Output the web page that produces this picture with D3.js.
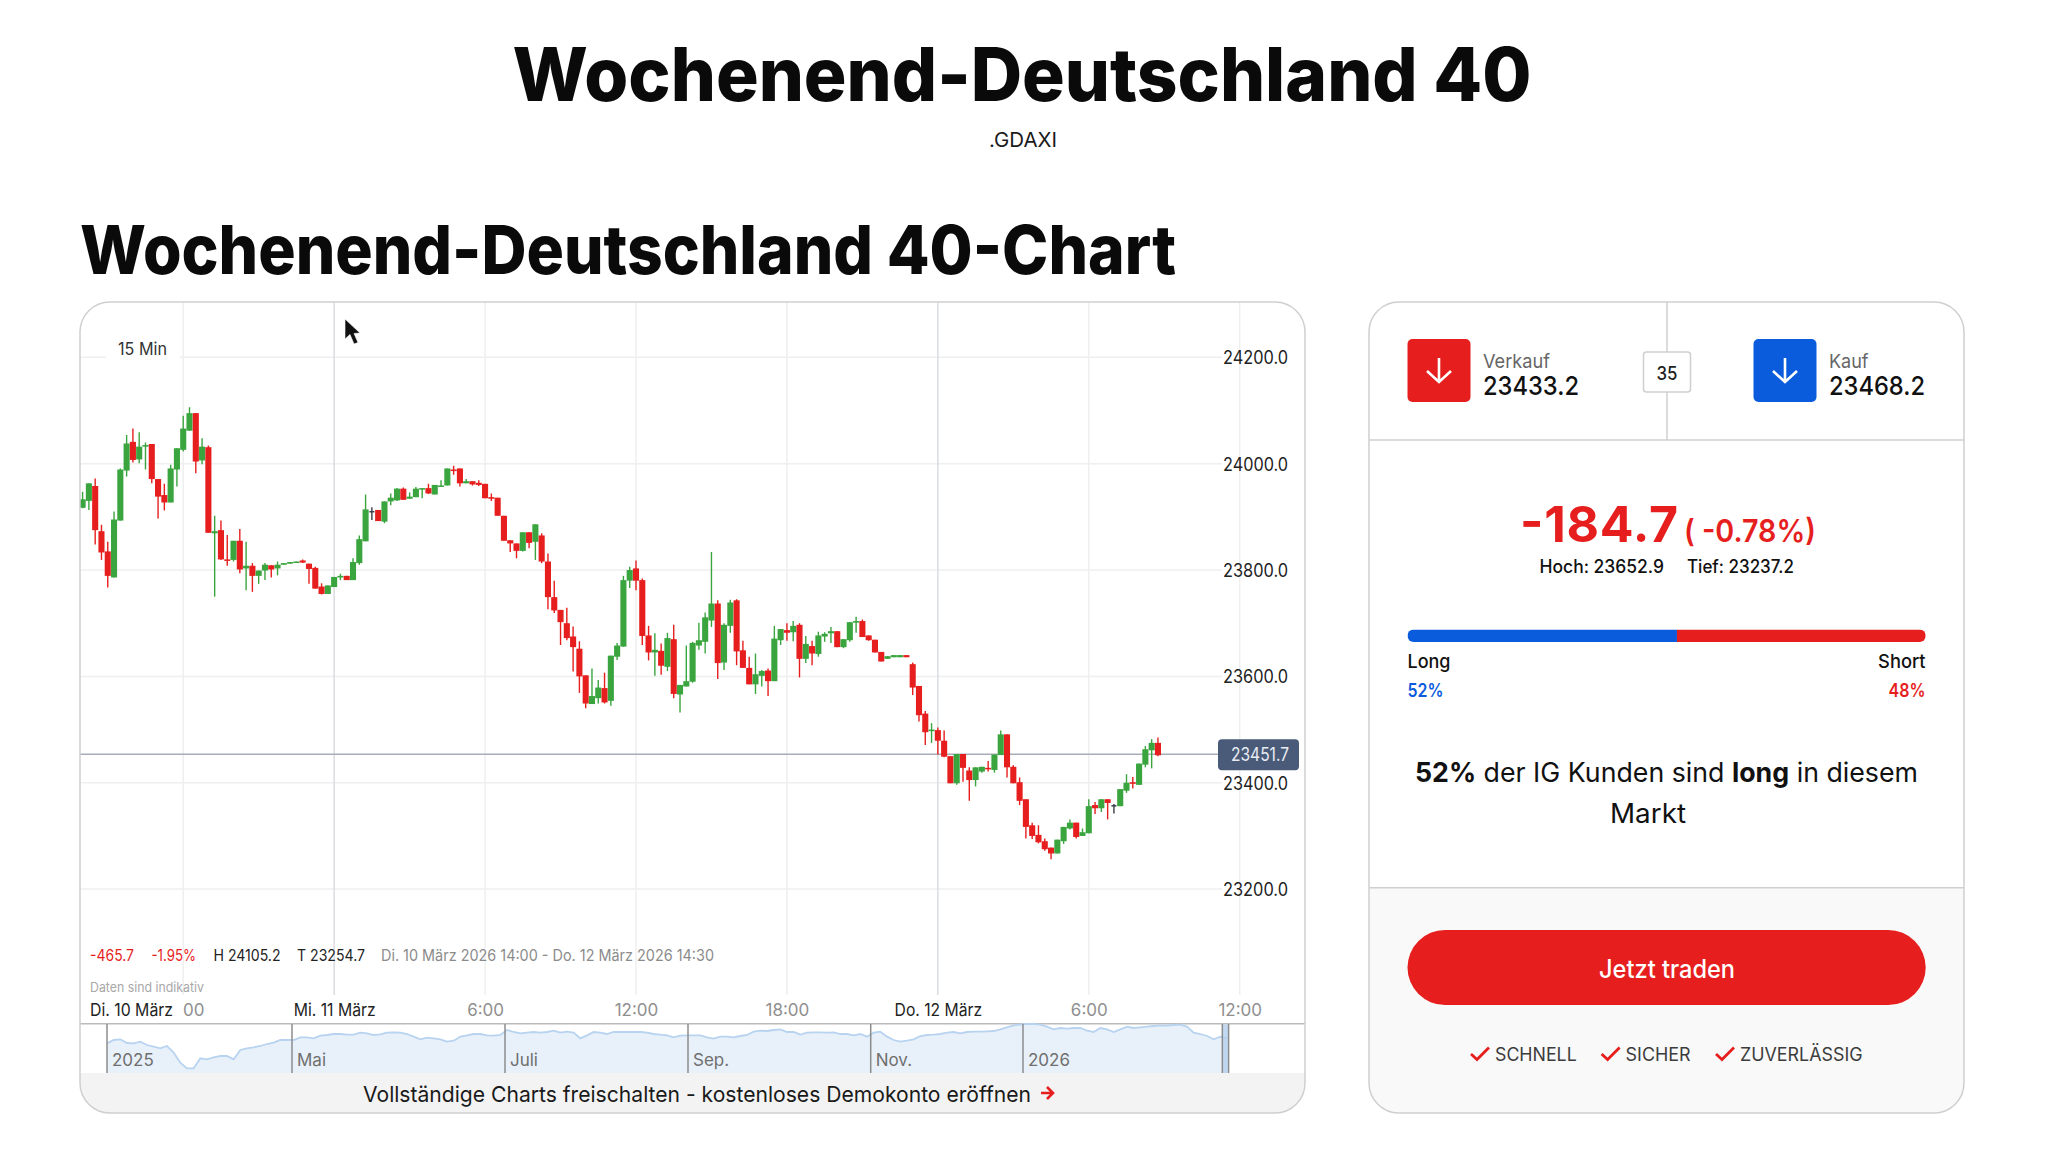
<!DOCTYPE html>
<html lang="de"><head><meta charset="utf-8"><title>Wochenend-Deutschland 40</title>
<script src="https://cdn.jsdelivr.net/npm/d3@7/dist/d3.min.js"></script>
<style>html,body{margin:0;padding:0;background:#fff}svg{display:block}text{font-family:Inter,"Noto Sans",sans-serif}</style>
</head><body><div id="chart"></div>
<script>
// ---------- Candles (15 Min), one entry per bar ----------
const opens=[23917,23930,23958,23873,23835,23786,23893,23987,24041,24008,24032,24037,23971,23941,23927,23989,24026,24062,24095,24006,24031,23869,23875,23820,23819,23855,23803,23808,23789,23799,23809,23803,23810,23812,23814,23818,23812,23804,23769,23755,23768,23786,23789,23781,23813,23854,23911,23913,23891,23929,23931,23953,23934,23937,23952,23954,23942,23957,23959,23989,23991,23963,23967,23964,23962,23937,23936,
23902,23856,23850,23836,23871,23853,23865,23816,23749,23725,23700,23675,23652,23602,23548,23559,23578,23554,23637,23656,23780,23803,23781,23677,23645,23648,23618,23670,23566,23581,23590,23658,23665,23705,23737,23626,23695,23743,23649,23616,23585,23601,23611,23591,23668,23687,23683,23697,23633,23657,23642,23675,23681,23685,23655,23668,23701,23704,23677,23669,23646,
23633,23636,23636,23640,23623,23582,23530,23497,23499,23479,23450,23399,23454,23423,23405,23421,23428,23424,23452,23491,23430,23401,23369,23320,23302,23290,23278,23267,23290,23314,23325,23300,23305,23358,23352,23369,23358,23356,23385,23401,23396,23434,23461,23475];
const highs=[23947,23963,23972,23885,23853,23910,23991,24054,24066,24059,24040,24037,23971,23962,23998,24029,24090,24106,24095,24048,24034,23902,23893,23866,23855,23877,23853,23813,23799,23813,23809,23816,23813,23815,23816,23820,23812,23806,23775,23771,23787,23793,23789,23822,23865,23942,23918,23913,23929,23944,23954,23955,23946,23956,23954,23962,23960,23969,23991,23996,23991,23971,23967,23969,23962,23944,23936,
23902,23856,23850,23871,23871,23886,23869,23831,23780,23725,23729,23694,23666,23602,23615,23593,23607,23639,23663,23789,23806,23818,23784,23695,23681,23662,23682,23697,23584,23658,23665,23701,23720,23834,23743,23700,23744,23745,23667,23637,23643,23612,23615,23695,23689,23700,23704,23700,23676,23667,23684,23683,23693,23685,23670,23702,23712,23707,23677,23669,23646,
23638,23640,23640,23640,23626,23582,23535,23512,23504,23498,23450,23454,23454,23429,23429,23430,23441,23453,23498,23491,23433,23410,23369,23325,23320,23295,23278,23293,23317,23331,23325,23314,23369,23364,23369,23369,23360,23388,23416,23411,23436,23469,23482,23485];
const lows=[23916,23913,23848,23819,23767,23786,23893,23976,24002,24001,23989,23963,23897,23912,23927,23957,24023,24062,23982,23999,23870,23750,23819,23808,23816,23794,23762,23759,23774,23781,23786,23790,23810,23812,23814,23813,23774,23765,23754,23755,23768,23781,23781,23781,23810,23854,23894,23892,23888,23922,23930,23932,23934,23937,23935,23943,23942,23957,23959,23979,23957,23963,23959,23958,23935,23930,23902,
23855,23834,23822,23835,23841,23819,23813,23726,23719,23659,23668,23609,23569,23540,23548,23549,23549,23545,23631,23656,23766,23762,23659,23630,23601,23603,23610,23559,23532,23581,23588,23650,23643,23693,23595,23612,23682,23621,23616,23585,23567,23581,23563,23591,23659,23667,23666,23598,23625,23621,23637,23665,23663,23655,23653,23665,23682,23674,23667,23645,23628,
23633,23636,23636,23636,23565,23515,23471,23475,23453,23448,23399,23396,23402,23366,23393,23419,23421,23419,23452,23410,23399,23358,23295,23294,23286,23272,23256,23267,23285,23312,23295,23300,23305,23341,23345,23331,23342,23356,23381,23389,23396,23429,23427,23450];
const closes=[23933,23963,23875,23833,23789,23895,23989,24038,24007,24032,24035,23971,23938,23927,23991,24029,24066,24095,24004,24032,23870,23873,23820,23818,23855,23801,23808,23789,23799,23810,23801,23810,23813,23815,23816,23814,23802,23765,23755,23771,23787,23789,23781,23815,23858,23914,23911,23892,23929,23936,23953,23932,23938,23953,23954,23944,23960,23959,23991,23987,23963,23967,23961,23960,23935,23934,23902,
23855,23850,23836,23871,23851,23886,23816,23749,23724,23702,23672,23655,23600,23549,23563,23579,23551,23639,23658,23781,23800,23780,23676,23645,23650,23620,23672,23567,23584,23591,23663,23668,23711,23737,23625,23697,23739,23647,23616,23585,23604,23610,23591,23671,23689,23682,23695,23633,23661,23643,23677,23680,23685,23655,23670,23702,23704,23674,23668,23645,23628,
23638,23640,23640,23636,23579,23527,23495,23500,23479,23449,23399,23454,23428,23405,23429,23430,23426,23453,23491,23429,23399,23366,23317,23300,23288,23275,23267,23293,23317,23325,23298,23307,23356,23352,23369,23362,23358,23388,23400,23398,23436,23463,23475,23451.7];

// ---------- Axes ----------
const priceTicks=[24200,24000,23800,23600,23400,23200];
const timeTickBars=[16,40,64,88,112,136,160,184];
const timeTickLabels=["00","Mi. 11 März","6:00","12:00","18:00","Do. 12 März","6:00","12:00"];
const dayTicks=[40,136];
const lastPrice=23451.7;

// ---------- Navigator (whole-period overview) ----------
const overview=[22750,23200,23290,22795,22750,22975,22525,22300,22075,22390,21490,20140,19375,19375,20725,20590,20860,21040,21040,20590,21850,22075,22210,22390,22660,22840,23200,23200,23200,23560,23560,23425,23785,23875,24010,24010,23920,23920,24190,24100,23875,23965,24190,24235,24190,24010,23650,23290,23515,23425,23290,22975,23110,23650,23830,24010,24010,23830,23785,23875,24550,24280,24100,24190,24280,24190,24280,24460,24190,24325,24190,23425,23830,24280,24190,24010,24280,
24280,24280,24280,24280,24190,24010,23920,23830,23560,23785,23830,23830,23830,23560,23380,23650,23650,23560,23740,23875,24325,24460,24415,24550,24640,24280,24280,23920,24190,24235,24235,24190,24235,24010,24010,23830,24010,23650,24190,24325,23650,23200,22975,23110,23290,23740,23875,23920,24010,24190,24280,24100,24280,24325,24325,24370,24415,24640,24910,25180,25270,25360,25360,25270,25000,24640,24820,24730,24820,24820,24460,24280,24820,24640,24280,24640,25000,
24820,24910,25000,25090,25180,25135,25225,25270,25000,24190,24010,23740,23290,23650,23425];
const overviewLabels=["2025","Mai","Juli","Sep.","Nov.","2026"];
const windowStartIndex=167.3;

// ---------- Panel content ----------
const longPct=52, shortPct=48;
const sellPrice="23433.2", buyPrice="23468.2", spread="35";
const change="-184.7", changePct="( -0.78%)", dayHigh="Hoch: 23652.9", dayLow="Tief: 23237.2";
const features=["SCHNELL","SICHER","ZUVERLÄSSIG"];

const RED="#e61e1e",GREEN="#3aa53e",BLUE="#0a5cdc",DARK="#3a3f47",BORDER="#cfcfcf";
const W=2048,H=1168;
const svg=d3.select("#chart").append("svg").attr("width",W).attr("height",H).attr("viewBox",`0 0 ${W} ${H}`);
function txt(par,x,y,s,o={}){
  const t=par.append("text").attr("x",x).attr("y",y).text(s)
    .attr("font-size",o.size||18).attr("font-weight",o.weight||400).attr("fill",o.fill||"#1a1a1a")
    .attr("text-anchor",o.anchor||"start");
  if(o.w) t.attr("textLength",o.w).attr("lengthAdjust",o.adjust||"spacingAndGlyphs");
  return t;
}

// Titles
txt(svg,1022,101,"Wochenend-Deutschland 40",{size:74,weight:800,fill:"#0a0a0a",anchor:"middle",w:1019});
txt(svg,1023,147,".GDAXI",{size:20,anchor:"middle",w:68});
txt(svg,80,274,"Wochenend-Deutschland 40-Chart",{size:68,weight:800,fill:"#0a0a0a",w:1096});

// ---------- Left card ----------
const defs=svg.append("defs");
defs.append("clipPath").attr("id","leftClip").append("rect").attr("x",80).attr("y",302).attr("width",1225).attr("height",811).attr("rx",30);
defs.append("clipPath").attr("id","rightClip").append("rect").attr("x",1369).attr("y",302).attr("width",595).attr("height",811).attr("rx",30);
const left=svg.append("g").attr("clip-path","url(#leftClip)");
left.append("rect").attr("x",80).attr("y",302).attr("width",1225).attr("height",811).attr("fill","#fff");

const x=d3.scaleLinear().domain([0,184]).range([82.6,1239.7]);
const y=d3.scaleLinear().domain([23200,24200]).range([889.1,357.3]);

// Grid
left.append("g").selectAll("line").data(priceTicks).join("line")
  .attr("x1",80).attr("x2",1222).attr("y1",d=>y(d)).attr("y2",d=>y(d)).attr("stroke","#efefef").attr("stroke-width",1.5);
left.append("g").selectAll("line").data(timeTickBars).join("line")
  .attr("x1",d=>x(d)).attr("x2",d=>x(d)).attr("y1",302).attr("y2",995)
  .attr("stroke",d=>dayTicks.includes(d)?"#d9dce0":"#efefef").attr("stroke-width",1.5);

// 15 Min label
left.append("rect").attr("x",106).attr("y",336).attr("width",74).attr("height",22).attr("fill","#fff");
txt(left,118,355,"15 Min",{size:17,fill:"#333",w:49});

// Price line
left.append("line").attr("x1",80).attr("x2",1218).attr("y1",y(lastPrice)-1).attr("y2",y(lastPrice)-1).attr("stroke","#a7adb8").attr("stroke-width",1.5);

// Candles
const bars=opens.map((o,i)=>({i,o,h:highs[i],l:lows[i],c:closes[i]}));
const col=d=>d.c>d.o?GREEN:d.c<d.o?RED:DARK;
const cg=left.append("g");
cg.selectAll(".wick").data(bars).join("line").attr("class","wick")
  .attr("x1",d=>x(d.i)).attr("x2",d=>x(d.i)).attr("y1",d=>y(d.h)).attr("y2",d=>y(d.l))
  .attr("stroke",col).attr("stroke-width",1.4);
const bw=(x(1)-x(0))-0.2;
cg.selectAll(".body").data(bars).join("rect").attr("class","body")
  .attr("x",d=>x(d.i)-(d.o===d.c?2.5:bw/2)).attr("width",d=>d.o===d.c?5:bw)
  .attr("y",d=>y(Math.max(d.o,d.c))).attr("height",d=>Math.max(1.5,Math.abs(y(d.o)-y(d.c))))
  .attr("fill",col);

// Price axis
const yAxis=left.append("g").attr("transform","translate(1223,0.6)")
  .call(d3.axisRight(y).tickValues(priceTicks).tickSize(0).tickPadding(0).tickFormat(d3.format(".1f")));
yAxis.select(".domain").remove();
yAxis.selectAll("text").attr("font-size",18).attr("fill","#222").style("font-family","Inter").attr("textLength",65).attr("lengthAdjust","spacingAndGlyphs");

// Price tag
left.append("rect").attr("x",1218).attr("y",y(lastPrice)-16).attr("width",81).attr("height",31).attr("rx",4).attr("fill","#4a5b7a");
txt(left,1231,y(lastPrice)+6,d3.format(".1f")(lastPrice),{size:18,fill:"#e9edf3",w:58});

// Stats row
txt(left,90,961,"-465.7",{size:16,fill:RED,w:44});
txt(left,151.5,961,"-1.95%",{size:16,fill:RED,w:44.5});
txt(left,213.5,961,"H 24105.2",{size:16,fill:"#222",w:67});
txt(left,297,961,"T 23254.7",{size:16,fill:"#222",w:68});
txt(left,381,961,"Di. 10 März 2026 14:00 - Do. 12 März 2026 14:30",{size:16,fill:"#8b8b8b",w:333});
txt(left,90,992,"Daten sind indikativ",{size:13,fill:"#a8a8a8",w:114});

// Time axis
txt(left,90,1016,"Di. 10 März",{size:17,fill:"#222",w:83});
const xAxis=left.append("g").attr("transform","translate(0,1016)")
  .call(d3.axisBottom(x).tickValues(timeTickBars).tickSize(0).tickPadding(0).tickFormat((d,i)=>timeTickLabels[i]));
xAxis.select(".domain").remove();
xAxis.selectAll("text").attr("y",0).attr("dy",0).attr("font-size",17).style("font-family","Inter")
  .attr("fill",d=>dayTicks.includes(d)?"#222":"#8f8f8f")
  .attr("dx",d=>d===16?10:0);
xAxis.selectAll("text").filter(d=>dayTicks.includes(d))
  .attr("textLength",d=>d===40?82:87.5).attr("lengthAdjust","spacingAndGlyphs");
left.append("line").attr("x1",80).attr("x2",1305).attr("y1",1023.7).attr("y2",1023.7).attr("stroke","#bcbcbc").attr("stroke-width",1.5);

// Navigator
const nx=d3.scaleLinear().domain([0,168]).range([107,1227]);
const ny=d3.scaleLinear().domain([18745,25900]).range([1073,1020]);
const navBottom=1073;
left.append("path").attr("d",d3.area().x((d,i)=>nx(i)).y0(navBottom).y1(d=>ny(d))(overview)).attr("fill","#e8f1fa");
left.append("path").attr("d",d3.line().x((d,i)=>nx(i)).y(d=>ny(d))(overview)).attr("fill","none").attr("stroke","#b8d3f0").attr("stroke-width",1.8);
left.append("rect").attr("x",nx(windowStartIndex)).attr("y",1024.5).attr("width",1228.6-nx(windowStartIndex)).attr("height",48.5).attr("fill","#b4cfee").attr("opacity",.8);
const navSep=[107,292,505,688,870.7,1023];
left.append("g").selectAll("line").data(navSep.concat([nx(windowStartIndex),1228.6])).join("line")
  .attr("x1",d=>d).attr("x2",d=>d).attr("y1",1024).attr("y2",1073).attr("stroke","#8c8c8c").attr("stroke-width",1.5);
left.append("g").selectAll("text").data(overviewLabels).join("text")
  .attr("x",(d,i)=>navSep[i]+5).attr("y",1066).text(d=>d).attr("font-size",17).attr("fill","#6f6f6f");

// Bottom banner
left.append("rect").attr("x",80).attr("y",1073).attr("width",1225).attr("height",40).attr("fill","#f3f3f3");
txt(left,363,1101.5,"Vollständige Charts freischalten - kostenloses Demokonto eröffnen",{size:22,fill:"#1a1a1a",w:668});
left.append("path").attr("d","M1041 1093H1053M1047 1087L1053 1093L1047 1099").attr("fill","none").attr("stroke",RED).attr("stroke-width",2.6);
svg.append("rect").attr("x",80).attr("y",302).attr("width",1225).attr("height",811).attr("rx",30).attr("fill","none").attr("stroke",BORDER).attr("stroke-width",1.5);

// Mouse cursor
svg.append("path").attr("d","M345 319L345 339L350 334.5L354 344L358 342.5L354 333.5L360 333Z").attr("fill","#111").attr("stroke","#fff").attr("stroke-width",.6);

// ---------- Right card ----------
const right=svg.append("g").attr("clip-path","url(#rightClip)");
right.append("rect").attr("x",1369).attr("y",302).attr("width",595).attr("height",811).attr("fill","#fff");
right.append("rect").attr("x",1369).attr("y",887.7).attr("width",595).attr("height",226).attr("fill","#f9f9f9");
right.append("line").attr("x1",1667).attr("x2",1667).attr("y1",302).attr("y2",440).attr("stroke",BORDER).attr("stroke-width",1.5);
right.append("line").attr("x1",1369).attr("x2",1964).attr("y1",440).attr("y2",440).attr("stroke",BORDER).attr("stroke-width",1.5);
right.append("line").attr("x1",1369).attr("x2",1964).attr("y1",887.7).attr("y2",887.7).attr("stroke",BORDER).attr("stroke-width",1.5);

function arrowBox(bx,fill){
  right.append("rect").attr("x",bx).attr("y",339).attr("width",63).attr("height",63).attr("rx",5).attr("fill",fill);
  const c=bx+31.5;
  right.append("path").attr("d",`M${c} 358V382M${c-12} 371L${c} 382L${c+12} 371`).attr("fill","none").attr("stroke","#fff").attr("stroke-width",2.6);
}
arrowBox(1407.5,RED); arrowBox(1753.5,BLUE);
txt(right,1483,368,"Verkauf",{size:19,fill:"#666",w:67});
txt(right,1483,395,sellPrice,{size:26,weight:500,fill:"#111",w:96});
txt(right,1829,368,"Kauf",{size:19,fill:"#666",w:39.5});
txt(right,1829,395,buyPrice,{size:26,weight:500,fill:"#111",w:96});
right.append("rect").attr("x",1643.5).attr("y",352).attr("width",47).attr("height",40).attr("rx",3).attr("fill","#fff").attr("stroke",BORDER).attr("stroke-width",1.5);
txt(right,1667,380,spread,{size:18,weight:500,anchor:"middle",fill:"#222",w:21});

txt(right,1520,541.7,change,{size:50,weight:700,fill:RED,w:158,adjust:"spacing"});
txt(right,1684,541.7,changePct,{size:31,weight:600,fill:RED,w:132});
txt(right,1539.5,572.7,dayHigh,{size:18,weight:500,fill:"#111",w:124.5});
txt(right,1687,572.7,dayLow,{size:18,weight:500,fill:"#111",w:107});

// Sentiment bar
const sx=d3.scaleLinear().domain([0,longPct+shortPct]).range([1407.5,1925.7]);
defs.append("clipPath").attr("id","barClip").append("rect").attr("x",sx(0)).attr("y",629.5).attr("width",sx(100)-sx(0)).attr("height",12.5).attr("rx",6);
const sb=right.append("g").attr("clip-path","url(#barClip)");
sb.selectAll("rect").data([{s:0,e:longPct,f:BLUE},{s:longPct,e:100,f:RED}]).join("rect")
  .attr("x",d=>sx(d.s)).attr("width",d=>sx(d.e)-sx(d.s)).attr("y",629.5).attr("height",12.5).attr("fill",d=>d.f);
txt(right,1407.5,668,"Long",{size:19,weight:500,fill:"#111",w:43});
txt(right,1925.6,668,"Short",{size:19,weight:500,fill:"#111",anchor:"end",w:47.5});
txt(right,1407.5,696.7,longPct+"%",{size:19,weight:600,fill:BLUE,w:36});
txt(right,1925.6,696.7,shortPct+"%",{size:19,weight:600,fill:RED,anchor:"end",w:37});

const msg=right.append("text").attr("x",1415).attr("y",781.7).attr("font-size",27).attr("fill","#111").attr("textLength",503).attr("lengthAdjust","spacingAndGlyphs");
msg.append("tspan").attr("font-weight",700).text(longPct+"%");
msg.append("tspan").text(" der IG Kunden sind ");
msg.append("tspan").attr("font-weight",700).text("long");
msg.append("tspan").text(" in diesem");
txt(right,1610,822.7,"Markt",{size:27,fill:"#111",w:76});

// Button
right.append("rect").attr("x",1407.5).attr("y",930).attr("width",518.2).attr("height",75).attr("rx",37.5).attr("fill",RED);
txt(right,1667,978,"Jetzt traden",{size:25,weight:500,fill:"#fff",anchor:"middle",w:136});

// Feature ticks
const featX=[1495,1625.6,1740], featW=[81.7,65,122.5];
features.forEach((f,i)=>{
  txt(right,featX[i],1061,f,{size:18,fill:"#3c3c3c",w:featW[i]});
  const cx=featX[i]-24;
  right.append("path").attr("d",`M${cx} 1054L${cx+6} 1059.5L${cx+18} 1047.5`).attr("fill","none").attr("stroke",RED).attr("stroke-width",2.8);
});
svg.append("rect").attr("x",1369).attr("y",302).attr("width",595).attr("height",811).attr("rx",30).attr("fill","none").attr("stroke",BORDER).attr("stroke-width",1.5);
</script></body></html>
